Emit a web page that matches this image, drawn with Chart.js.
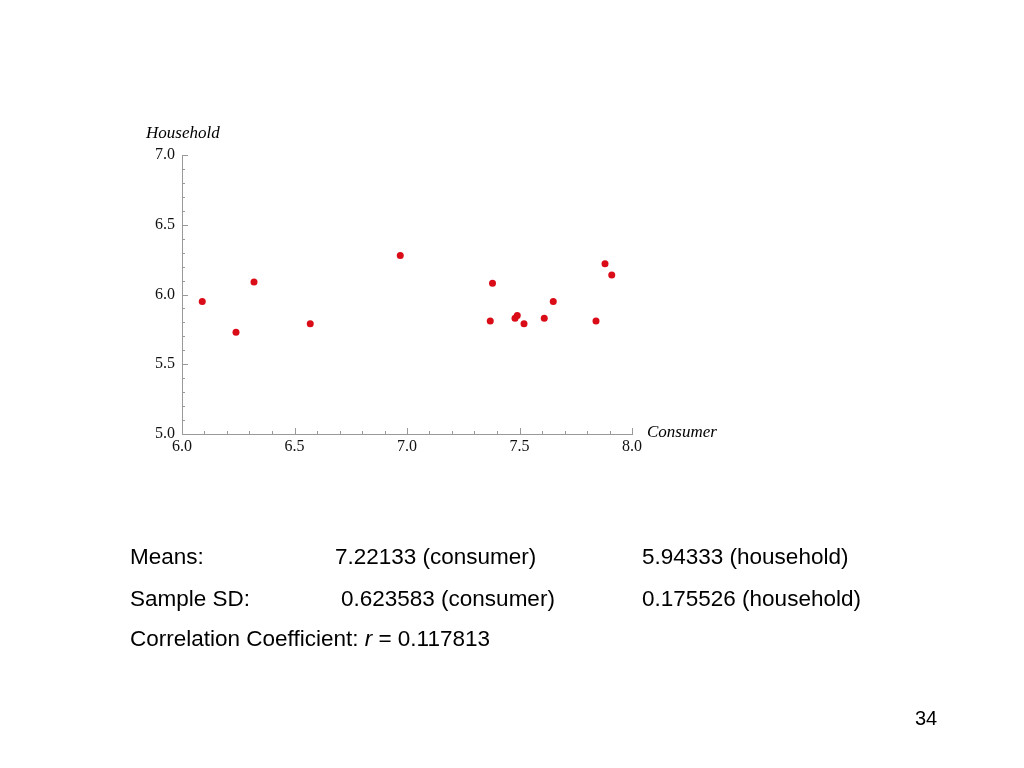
<!DOCTYPE html>
<html>
<head>
<meta charset="utf-8">
<script src="https://cdn.jsdelivr.net/npm/chart.js@4/dist/chart.umd.min.js"></script>
<style>
  body { margin: 0; background: #fff; }
  #page { position: relative; width: 1024px; height: 768px; overflow: hidden; }
  #chart { position: absolute; left: 0; top: 0; }
  .t { position: absolute; white-space: nowrap; color: #000; }
  .serif { font-family: "Liberation Serif", "DejaVu Serif", serif; font-style: italic; font-size: 17px; }
  .sans { font-family: "Liberation Sans", Arial, sans-serif; font-size: 22.5px; line-height: 26px; }
</style>
</head>
<body>
<div id="page">
  <canvas id="chart" width="1024" height="768"></canvas>
  <div class="t serif" style="left:146px; top:123px;">Household</div>
  <div class="t serif" style="left:647px; top:422px;">Consumer</div>

  <div class="t sans" style="left:130px; top:544px;">Means:</div>
  <div class="t sans" style="left:335px; top:544px;">7.22133 (consumer)</div>
  <div class="t sans" style="left:642px; top:544px;">5.94333 (household)</div>
  <div class="t sans" style="left:130px; top:586px;">Sample SD:</div>
  <div class="t sans" style="left:341px; top:586px;">0.623583 (consumer)</div>
  <div class="t sans" style="left:642px; top:586px;">0.175526 (household)</div>
  <div class="t sans" style="left:130px; top:626px;">Correlation Coefficient: <i>r</i> = 0.117813</div>
  <div class="t sans" style="left:915px; top:706px; font-size:20px; line-height:24px;">34</div>
</div>
<script>
// consumer vs household scores
const consumer  = [6.09, 6.24, 6.32, 6.57, 6.97, 7.38, 7.37, 7.48, 7.49, 7.52, 7.61, 7.65, 7.84, 7.88, 7.91];
const household = [5.95, 5.73, 6.09, 5.79, 6.28, 6.08, 5.81, 5.83, 5.85, 5.79, 5.83, 5.95, 5.81, 6.22, 6.14];

const xTicks = [6.0, 6.5, 7.0, 7.5, 8.0];
const yTicks = [5.0, 5.5, 6.0, 6.5, 7.0];

const axisGray = '#999';
const dotRed = 'rgb(218, 12, 24)';

// small inward tick marks every 0.1, longer ones at 0.5
const tickMarks = {
    id: 'tickMarks',
    afterDraw(chart) {
        const { ctx, scales: { x, y } } = chart;
        ctx.save();
        ctx.strokeStyle = axisGray;
        ctx.lineWidth = 1;
        for (let i = 0; i <= 20; i++) {
            const px = Math.round(x.getPixelForValue(6 + i * 0.1)) + 0.5;
            const len = i % 5 === 0 ? 6 : 3;
            ctx.beginPath();
            ctx.moveTo(px, y.bottom);
            ctx.lineTo(px, y.bottom - len);
            ctx.stroke();
        }
        for (let i = 0; i <= 20; i++) {
            const py = Math.round(y.getPixelForValue(5 + i * 0.1)) + 0.5;
            const len = i % 5 === 0 ? 6 : 3;
            ctx.beginPath();
            ctx.moveTo(x.left, py);
            ctx.lineTo(x.left + len, py);
            ctx.stroke();
        }
        ctx.restore();
    }
};

const tickFont = { family: '"Liberation Serif", "DejaVu Serif", serif', size: 16 };

new Chart(document.getElementById('chart'), {
    type: 'scatter',
    data: {
        datasets: [{
            data: consumer.map((c, i) => ({ x: c, y: household[i] })),
            backgroundColor: dotRed,
            borderWidth: 0,
            pointRadius: 3.5
        }]
    },
    options: {
        responsive: false,
        animation: false,
        layout: { padding: { left: 0, right: 392, top: 155, bottom: 0 } },
        plugins: { legend: { display: false }, tooltip: { enabled: false } },
        scales: {
            x: {
                type: 'linear',
                min: 6, max: 8,
                afterBuildTicks: s => { s.ticks = xTicks.map(v => ({ value: v })); },
                afterFit: s => { s.height = 768 - 434; },
                grid: { drawOnChartArea: false, drawTicks: false },
                border: { display: true, color: axisGray },
                ticks: { color: '#111', font: tickFont, padding: 3, callback: v => v.toFixed(1) }
            },
            y: {
                type: 'linear',
                min: 5, max: 7,
                afterBuildTicks: s => { s.ticks = yTicks.map(v => ({ value: v })); },
                afterFit: s => { s.width = 182; },
                grid: { drawOnChartArea: false, drawTicks: false },
                border: { display: true, color: axisGray },
                ticks: { color: '#111', font: tickFont, padding: 7, callback: v => v.toFixed(1) }
            }
        }
    },
    plugins: [tickMarks]
});
</script>
</body>
</html>
